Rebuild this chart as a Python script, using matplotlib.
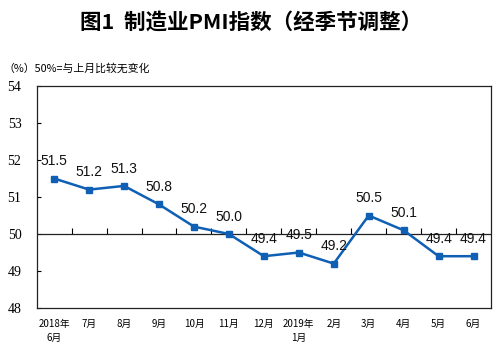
import matplotlib
matplotlib.use('Agg')
import matplotlib.pyplot as plt

plt.rcParams['font.family'] = ['Noto Sans CJK SC', 'DejaVu Sans']

months = ['2018年\n6月', '7月', '8月', '9月', '10月', '11月', '12月',
          '2019年\n1月', '2月', '3月', '4月', '5月', '6月']
pmi = [51.5, 51.2, 51.3, 50.8, 50.2, 50.0, 49.4, 49.5, 49.2, 50.5, 50.1, 49.4, 49.4]
y_ticks = [48, 49, 50, 51, 52, 53, 54]

line_colour = '#0F5FB4'


def main():
    fig = plt.figure(figsize=(4.98, 3.55), dpi=100)
    ax = fig.add_axes([0.0737, 0.1324, 0.9123, 0.6253])

    x = list(range(len(pmi)))
    ax.plot(x, pmi, color=line_colour, linewidth=1.8, marker='s', markersize=4,
            markeredgecolor=line_colour, markerfacecolor=line_colour, zorder=3)

    for xi, v in zip(x, pmi):
        ax.annotate(f'{v:.1f}', (xi, v), xytext=(0, 12.5), textcoords='offset points',
                    ha='center', va='center', fontsize=10, family='Liberation Sans',
                    color='#111111')

    ax.set_xlim(-0.5, len(pmi) - 0.5)
    ax.set_ylim(48, 54)
    ax.set_yticks(y_ticks)
    ax.set_yticklabels([str(t) for t in y_ticks], family='Liberation Serif', fontsize=10)
    ax.tick_params(axis='y', direction='in', length=3, width=0.8, pad=11)

    ax.set_xticks(x)
    ax.set_xticklabels(months, fontsize=7, linespacing=1.5, va='top')
    ax.tick_params(axis='x', length=0, pad=8)

    for s in ax.spines.values():
        s.set_linewidth(0.9)
        s.set_color('#222222')

    # the 50 line with its own tick marks
    ax.axhline(50, color='#222222', linewidth=0.9, zorder=2)
    sec = ax.secondary_xaxis((50 - 48) / 6)
    sec.set_xticks([i + 0.5 for i in range(len(pmi) - 1)])
    sec.set_xticklabels([])
    sec.tick_params(direction='in', length=4, width=0.8)
    sec.spines['bottom'].set_visible(False)

    fig.text(0.505, 0.937, '图1  制造业PMI指数（经季节调整）', ha='center', va='center',
             fontsize=15.5, fontweight='bold')
    fig.text(0.008, 0.808, '（%）50%=与上月比较无变化', ha='left', va='center', fontsize=7.8)

    plt.savefig('out.png', dpi=100)


if __name__ == '__main__':
    main()
